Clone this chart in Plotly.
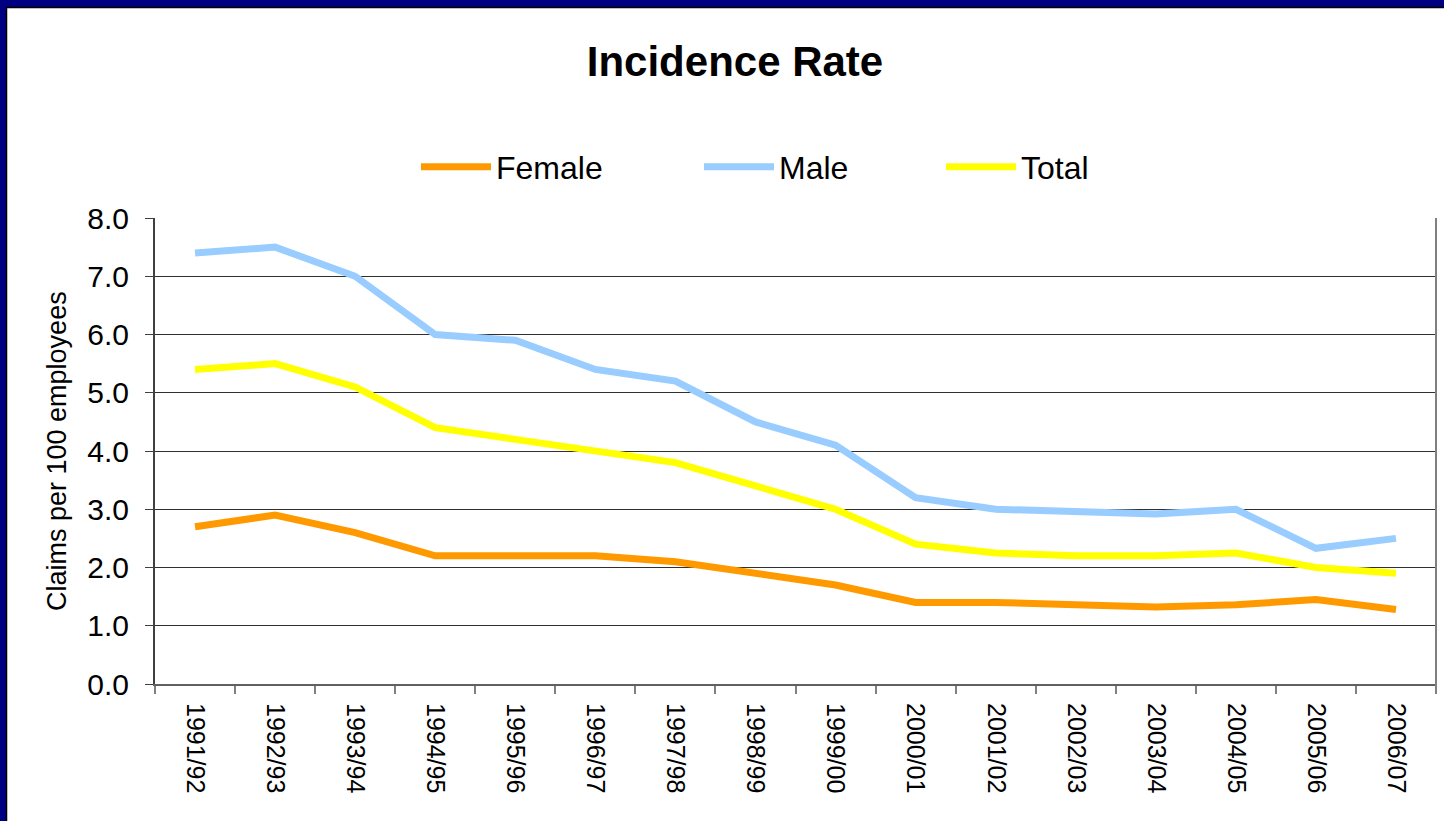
import plotly.graph_objects as go

# ---- data ----
years = ["1991/92", "1992/93", "1993/94", "1994/95", "1995/96", "1996/97", "1997/98", "1998/99",
         "1999/00", "2000/01", "2001/02", "2002/03", "2003/04", "2004/05", "2005/06", "2006/07"]
female = [2.7, 2.9, 2.6, 2.2, 2.2, 2.2, 2.1, 1.9, 1.7, 1.4, 1.4, 1.36, 1.32, 1.36, 1.45, 1.28]
male = [7.4, 7.5, 7.0, 6.0, 5.9, 5.4, 5.2, 4.5, 4.1, 3.2, 3.0, 2.97, 2.92, 3.0, 2.33, 2.5]
total = [5.4, 5.5, 5.1, 4.4, 4.2, 4.0, 3.8, 3.4, 3.0, 2.4, 2.25, 2.2, 2.2, 2.25, 2.0, 1.9]
y_ticks = [0, 1, 2, 3, 4, 5, 6, 7, 8]
y_tick_labels = ["0.0", "1.0", "2.0", "3.0", "4.0", "5.0", "6.0", "7.0", "8.0"]

# ---- layout geometry (pixels) ----
W, H = 1444, 821
ML, MR, MT, MB = 155, 8, 218, 137
PW, PH = W - ML - MR, H - MT - MB


def px_x(p):
    return (p - ML) / PW


def px_y(p):
    return (H - MB - p) / PH


FONT = "Liberation Sans, Arial, sans-serif"

fig = go.Figure()
series = [("Female", female, "#FF9900", 198), ("Male", male, "#99CCFF", 157), ("Total", total, "#FFFF00", 120)]
for name, vals, col, lw in series:
    fig.add_trace(go.Scatter(x=years, y=vals, name=name, mode="lines",
                             line=dict(color=col, width=7), legendwidth=lw))

shapes = [
    # dark blue slide frame (left and top)
    dict(type="rect", xref="paper", yref="paper", x0=px_x(0), x1=px_x(6), y0=px_y(H), y1=px_y(0),
         fillcolor="#000080", line=dict(width=0), layer="below"),
    dict(type="rect", xref="paper", yref="paper", x0=px_x(0), x1=px_x(W), y0=px_y(7), y1=px_y(0),
         fillcolor="#000080", line=dict(width=0), layer="below"),
    dict(type="line", xref="paper", yref="paper", x0=px_x(6.5), x1=px_x(6.5), y0=px_y(H), y1=px_y(7),
         line=dict(color="#000000", width=1.5)),
    dict(type="line", xref="paper", yref="paper", x0=px_x(6), x1=px_x(W), y0=px_y(7.5), y1=px_y(7.5),
         line=dict(color="#000000", width=1.5)),
    # right border of plot area
    dict(type="line", xref="paper", yref="paper", x0=1, x1=1, y0=px_y(H - MB + 8), y1=1,
         line=dict(color="#808080", width=2)),
]

fig.update_layout(
    width=W, height=H, autosize=False,
    margin=dict(l=ML, r=MR, t=MT, b=MB, pad=0),
    paper_bgcolor="white", plot_bgcolor="white",
    font=dict(family=FONT, color="black"),
    title=dict(text="<b>Incidence Rate</b>", x=735 / W, xanchor="center", y=1 - 61 / H, yanchor="middle",
               font=dict(size=42, family=FONT, color="black")),
    showlegend=True,
    legend=dict(orientation="h", x=px_x(416), xanchor="left", y=px_y(167), yanchor="middle",
                font=dict(size=32, family=FONT), itemwidth=70, bgcolor="rgba(0,0,0,0)",
                traceorder="normal"),
    shapes=shapes,
    annotations=[dict(text="Claims per 100 employees", xref="paper", yref="paper",
                      x=px_x(57), y=0.5, xanchor="center", yanchor="middle", textangle=-90,
                      showarrow=False, font=dict(size=27, family=FONT, color="black"))],
)

fig.update_xaxes(type="category", tickangle=90, tickson="boundaries", ticks="outside", ticklen=8,
                 tickcolor="#808080", tickwidth=2, showgrid=False, showline=True, linecolor="#606060",
                 linewidth=2, tickfont=dict(size=25, family=FONT, color="black"), range=[-0.5, 15.5],
                 ticklabelstandoff=12)
fig.update_yaxes(range=[0, 8], tickvals=y_ticks, ticktext=y_tick_labels, ticks="outside", ticklen=8,
                 tickcolor="#404040", showgrid=True, gridcolor="#303030", gridwidth=1.2,
                 showline=True, linecolor="#404040", linewidth=2, zeroline=False,
                 tickfont=dict(size=30, family=FONT, color="black"), ticklabelstandoff=10)

fig.write_html("out.html", post_script="document.body.style.margin='0';",
               config={"displayModeBar": False})
